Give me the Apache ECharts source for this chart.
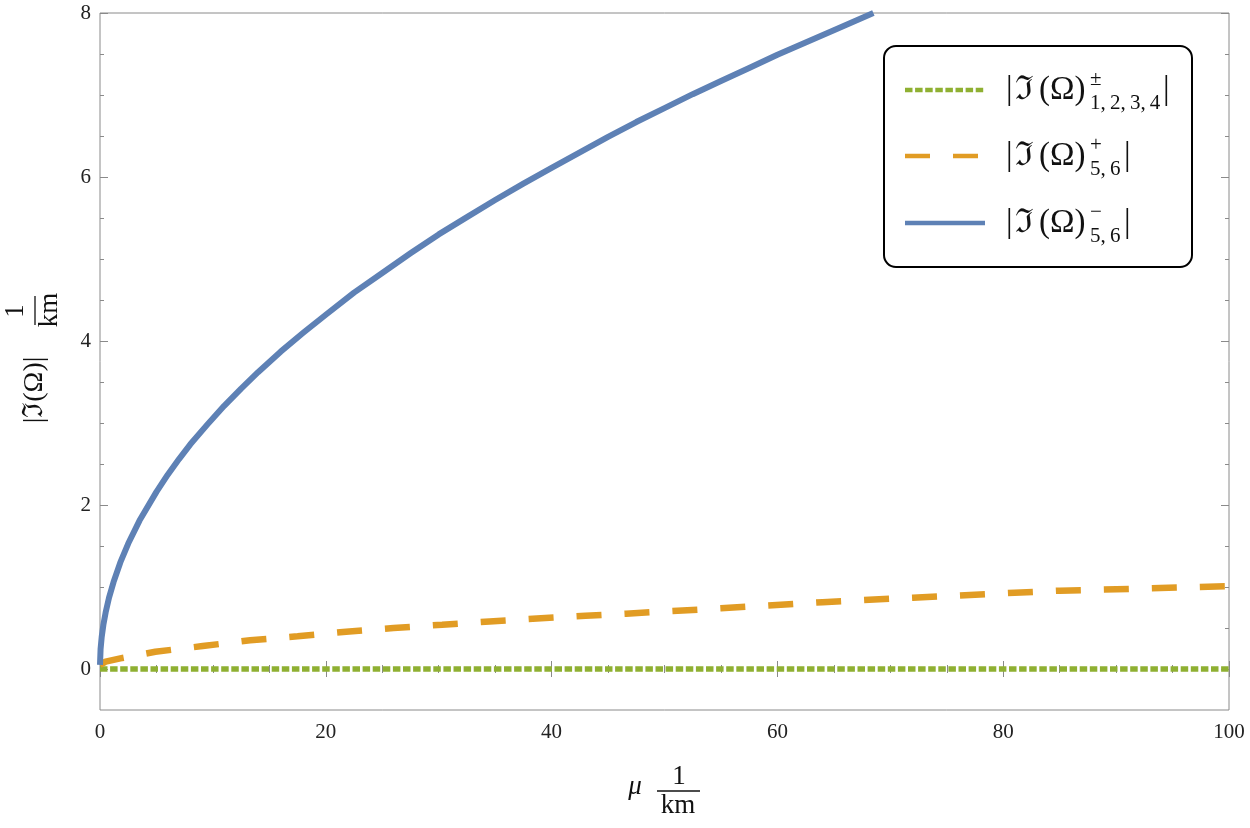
<!DOCTYPE html>
<html>
<head>
<meta charset="utf-8">
<script src="https://cdn.jsdelivr.net/npm/echarts@6.0.0/dist/echarts.min.js"></script>
<style>
  html, body { margin: 0; padding: 0; background: #fff; }
  #chart { width: 1250px; height: 828px; }
</style>
</head>
<body>
<div id="chart"></div>
<script>
// values
const greenMu = [0, 100]
const greenIm = [0, 0]

const orangeMu = [0, 0.5, 1.8, 4.9, 9.1, 13.3, 17.5, 21.8, 26, 30.3, 34.5, 38.7, 43, 46.6, 55, 64, 72, 81, 85, 92, 100]
const orangeIm = [0.05, 0.09, 0.13, 0.21, 0.28, 0.35, 0.40, 0.455, 0.50, 0.54, 0.58, 0.615, 0.65, 0.675, 0.74, 0.815, 0.87, 0.93, 0.955, 0.98, 1.01]

const blueMu = [0, 0.05, 0.15, 0.3, 0.5, 0.8, 1.2, 1.8, 2.5, 3.5, 5, 6, 7, 8, 9.5, 11, 12.5, 14, 16, 18, 20, 22.5, 25, 27.5,
  30, 32.5, 35, 37.5, 40, 42.5, 45, 47.5, 50, 52.5, 55, 57.5, 60, 62.5, 65, 68.5]
const blueIm = [0.05, 0.24, 0.39, 0.54, 0.69, 0.87, 1.06, 1.30, 1.53, 1.81, 2.16, 2.37, 2.56, 2.74, 2.98, 3.21, 3.42, 3.62, 3.87, 4.10, 4.32, 4.59, 4.83, 5.07,
  5.30, 5.51, 5.72, 5.92, 6.11, 6.30, 6.49, 6.67, 6.84, 7.01, 7.17, 7.33, 7.49, 7.64, 7.79, 8.0]

// axis ticks
const yMajor = [0, 2, 4, 6, 8]
const yMinor = [0.5, 1, 1.5, 2.5, 3, 3.5, 4.5, 5, 5.5, 6.5, 7, 7.5]

const pairs = (xs, ys) => xs.map((x, i) => [x, ys[i]])

const serif = '"Liberation Serif", "DejaVu Serif", serif'
const frameColor = '#8a8a8a'
const cGreen = '#8FB032'
const cOrange = '#E19C24'
const cBlue = '#5E81B5'

const chart = echarts.init(document.getElementById('chart'))

function xAxisDef(pos, showLabel) {
  return {
    type: 'value',
    position: pos,
    min: 0,
    max: 100,
    interval: 20,
    axisLine: { show: false },
    splitLine: { show: false },
    axisTick: { show: true, inside: true, length: 8, lineStyle: { color: frameColor } },
    minorTick: { show: true, splitNumber: 4, length: 4, lineStyle: { color: frameColor } },
    axisLabel: { show: showLabel, margin: 12, fontFamily: serif, fontSize: 21, color: '#222' }
  }
}

function yAxisDef(pos, ticks, len, showLabel) {
  return {
    type: 'value',
    position: pos,
    min: -0.5,
    max: 8,
    axisLine: { show: false },
    splitLine: { show: false },
    axisTick: { show: true, inside: true, length: len, customValues: ticks, lineStyle: { color: frameColor } },
    axisLabel: { show: showLabel, customValues: ticks, margin: 9, fontFamily: serif, fontSize: 21, color: '#222' }
  }
}

// legend entries drawn by hand (stacked super/subscripts)
const legendRows = [
  { y: 90, color: cGreen, dash: [7.5, 2.6], sup: '±', sub: '1,\u20092,\u20093,\u20094', close: 1163 },
  { y: 156, color: cOrange, dash: [25, 23], sup: '+', sub: '5,\u20096', close: 1124 },
  { y: 223, color: cBlue, dash: 'solid', sup: '−', sub: '5,\u20096', close: 1124 }
]

const txt = (x, y, s, size, align) => ({
  type: 'text', x: x, y: y, z: 11,
  style: { text: s, font: size + 'px ' + serif, fill: '#111', verticalAlign: 'middle', align: align || 'left' }
})

const graphics = [
  {
    type: 'rect',
    shape: { x: 884, y: 46, width: 308, height: 221, r: 12 },
    style: { fill: '#fff', stroke: '#000', lineWidth: 2 },
    z: 10
  }
]
legendRows.forEach(r => {
  graphics.push({
    type: 'line',
    shape: { x1: 905, y1: r.y, x2: 985, y2: r.y },
    style: { stroke: r.color, lineWidth: 4.5, lineDash: r.dash },
    z: 11
  })
  graphics.push(txt(1006, r.y, '|', 33))
  graphics.push(txt(1024, r.y, 'ℑ', 33, 'center'))
  graphics.push(txt(1039, r.y, '(Ω)', 33))
  graphics.push(txt(1090, r.y - 11, r.sup, 21))
  graphics.push(txt(1090, r.y + 13, r.sub, 21))
  graphics.push(txt(r.close, r.y, '|', 33))
})

// x axis title: mu 1/km
graphics.push(
  { type: 'text', x: 635, y: 787, style: { text: 'μ', font: 'italic 27px ' + serif, fill: '#111', align: 'center', verticalAlign: 'middle' } },
  { type: 'text', x: 679, y: 777, style: { text: '1', font: '27px ' + serif, fill: '#111', align: 'center', verticalAlign: 'middle' } },
  { type: 'line', shape: { x1: 657, y1: 791, x2: 700, y2: 791 }, style: { stroke: '#111', lineWidth: 1.3 } },
  { type: 'text', x: 678, y: 806, style: { text: 'km', font: '27px ' + serif, fill: '#111', align: 'center', verticalAlign: 'middle' } }
)

// y axis title, rotated
graphics.push({
  type: 'group',
  x: 35,
  y: 360,
  rotation: Math.PI / 2,
  children: [
    { type: 'text', x: -30, y: 0, style: { text: '|ℑ(Ω)|', font: '28px ' + serif, fill: '#111', align: 'center', verticalAlign: 'middle' } },
    { type: 'text', x: 49, y: -19, style: { text: '1', font: '27px ' + serif, fill: '#111', align: 'center', verticalAlign: 'middle' } },
    { type: 'line', shape: { x1: 35, y1: 0, x2: 64, y2: 0 }, style: { stroke: '#111', lineWidth: 1.3 } },
    { type: 'text', x: 50, y: 15, style: { text: 'km', font: '27px ' + serif, fill: '#111', align: 'center', verticalAlign: 'middle' } }
  ]
})

const option = {
  backgroundColor: '#fff',
  animation: false,
  grid: {
    left: 100,
    right: 21,
    top: 13,
    bottom: 118,
    show: true,
    borderColor: frameColor,
    borderWidth: 1,
    backgroundColor: 'transparent'
  },
  xAxis: [xAxisDef('bottom', true), xAxisDef('top', false)],
  yAxis: [
    yAxisDef('left', yMajor, 8, true),
    yAxisDef('left', yMinor, 4, false),
    yAxisDef('right', yMajor, 8, false),
    yAxisDef('right', yMinor, 4, false)
  ],
  graphic: graphics,
  series: [
    {
      name: 'green',
      type: 'line',
      data: pairs(greenMu, greenIm),
      showSymbol: false,
      lineStyle: { color: cGreen, width: 5.5, type: [7.5, 2.6], cap: 'butt' },
      z: 2
    },
    {
      name: 'orange',
      type: 'line',
      data: pairs(orangeMu, orangeIm),
      showSymbol: false,
      lineStyle: { color: cOrange, width: 6.5, type: [25, 23], cap: 'butt' },
      z: 3
    },
    {
      name: 'blue',
      type: 'line',
      data: pairs(blueMu, blueIm),
      showSymbol: false,
      lineStyle: { color: cBlue, width: 6, join: 'round' },
      z: 4
    }
  ]
}

chart.setOption(option)
</script>
</body>
</html>
